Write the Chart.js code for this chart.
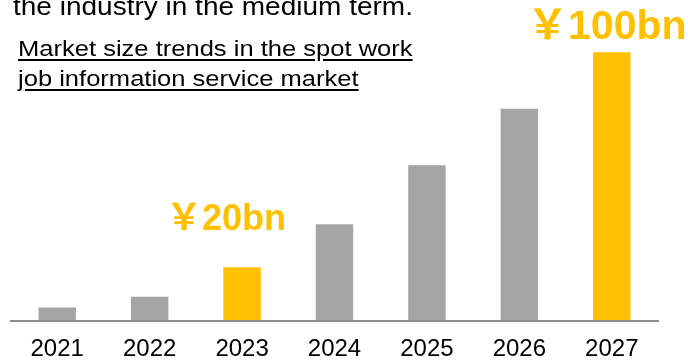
<!DOCTYPE html>
<html>
<head>
<meta charset="utf-8">
<script src="https://cdn.jsdelivr.net/npm/chart.js@4"></script>
<style>
  html, body { margin: 0; padding: 0; background: #fff; overflow: hidden; }
  #wrap { position: relative; width: 688px; height: 361px; }
  #myChart { position: absolute; left: 0; top: 0; }
  .lead {
    position: absolute; left: 13px; top: -6px;
    font: 25px/25px 'Liberation Sans', Arial, sans-serif; color: #000;
    white-space: nowrap; transform: scaleX(1.12); transform-origin: 0 0;
  }
  .caption {
    position: absolute; left: 18px; top: 34px;
    font: 22.5px/29.5px 'Liberation Sans', Arial, sans-serif; color: #000;
    text-decoration: underline; text-underline-offset: 3px;
    white-space: nowrap; transform: scaleX(1.135); transform-origin: 0 0;
  }
</style>
</head>
<body>
<div id="wrap">
  <canvas id="myChart" width="688" height="361"></canvas>
  <div class="lead">the industry in the medium term.</div>
  <div class="caption">Market size trends in the spot work<br>job information service market</div>
</div>
<script>
// market size, billions of yen
const years = ['2021', '2022', '2023', '2024', '2025', '2026', '2027'];
const marketSize = [5, 9, 20, 36, 58, 79, 100];
const highlighted = [false, false, true, false, false, false, true];

const gold = '#FFC000';
const grey = '#A5A5A5';
const fontFamily = "'Liberation Sans', Arial, 'Noto Sans CJK JP', sans-serif";

// where each yen label sits relative to its bar
const calloutStyle = {
    2: { size: 36, dx: -16, dy: 37 },
    6: { size: 41, dx: -5, dy: 13 }
};

//write the yen amount above the highlighted bars
const calloutPlugin = {
    id: 'callouts',
    afterDatasetsDraw(chart) {
        const ctx = chart.ctx;
        const bars = chart.getDatasetMeta(0).data;
        ctx.save();
        ctx.fillStyle = gold;
        ctx.textAlign = 'center';
        ctx.textBaseline = 'alphabetic';
        highlighted.forEach((on, i) => {
            if (!on) return;
            const s = calloutStyle[i];
            ctx.font = `bold ${s.size}px ${fontFamily}`;
            ctx.fillText('￥' + marketSize[i] + 'bn', bars[i].x + s.dx, bars[i].y - s.dy);
        });
        ctx.restore();
    }
};

const data = {
    labels: years,
    datasets: [{
        data: marketSize,
        backgroundColor: highlighted.map(on => on ? gold : grey),
        barPercentage: 0.405,
        categoryPercentage: 1
    }]
};

const config = {
    type: 'bar',
    data: data,
    plugins: [calloutPlugin],
    options: {
        responsive: false,
        animation: false,
        layout: { padding: { left: 11, right: 30, top: 4, bottom: -16 } },
        plugins: {
            legend: { display: false },
            tooltip: { enabled: false }
        },
        scales: {
            x: {
                grid: { display: false, drawTicks: false },
                border: { display: true, color: '#8C8C8C', width: 2, z: 1 },
                ticks: {
                    color: '#000',
                    padding: 13.6,
                    font: { family: fontFamily, size: 24, lineHeight: 1.2 }
                }
            },
            y: { display: false, min: 0, max: 118 }
        }
    }
};

new Chart(document.getElementById('myChart'), config);
</script>
</body>
</html>
